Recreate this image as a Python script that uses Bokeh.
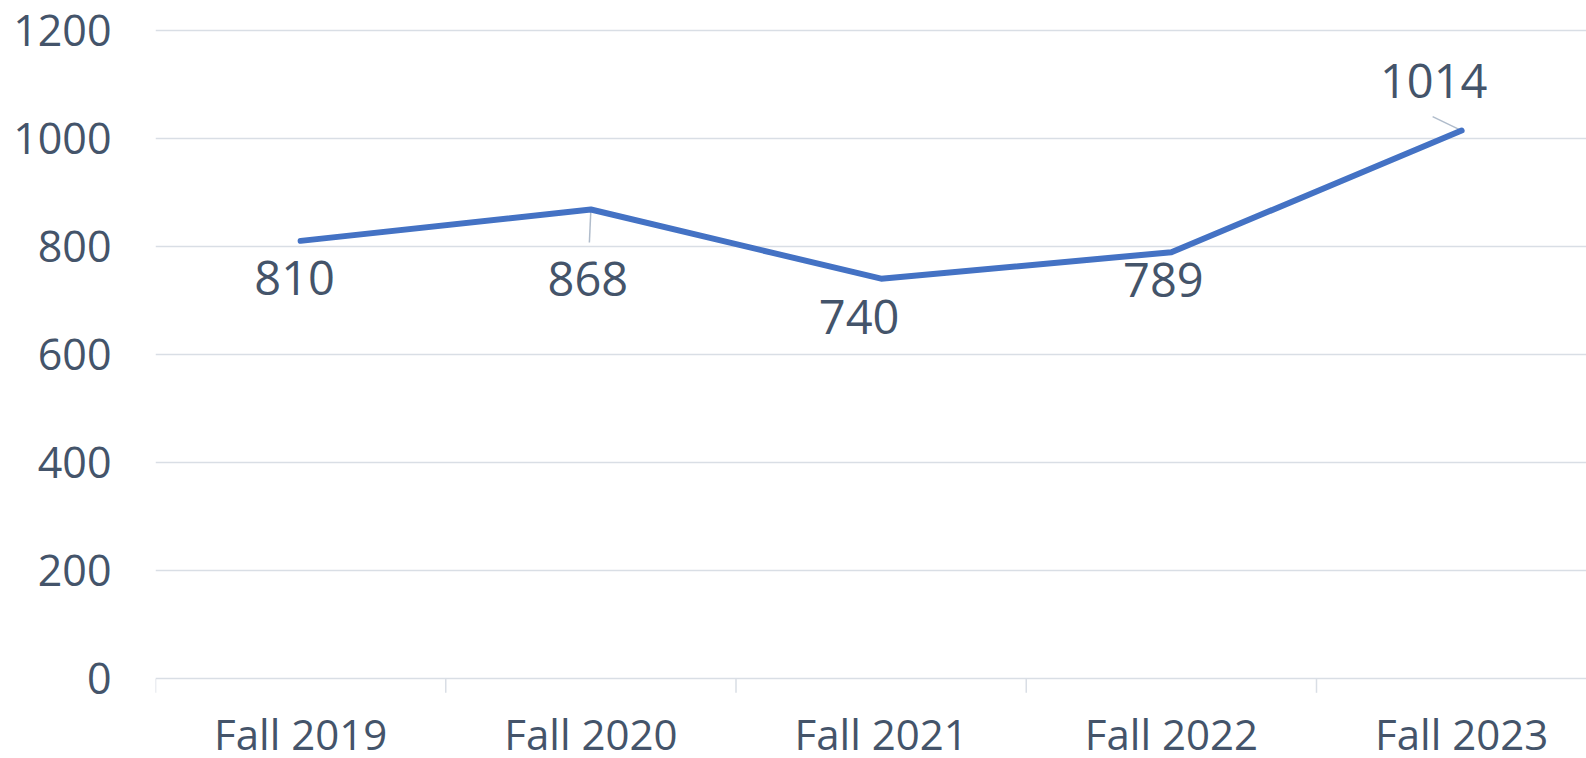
from bokeh.plotting import figure
from bokeh.models import Range1d, FixedTicker
from bokeh.core.properties import value
from bokeh.embed import file_html
from bokeh.resources import INLINE
import numpy as np

# ---- data ----
categories = ["Fall 2019", "Fall 2020", "Fall 2021", "Fall 2022", "Fall 2023"]
enrollment = [810, 868, 740, 789, 1014]
y_ticks = [0, 200, 400, 600, 800, 1000, 1200]

# ---- label placement (pixels from the point to the label baseline centre, +y is down) ----
label_dx = [-6, -3, -22, -8, -28]
label_dy = [55, 88, 57, 46, -31]
# leader lines (index of point, pixel offset of the far end)
leader_idx = [1, 4]
leader_dx = [-1.5, -29]
leader_dy = [33, -14]

# ---- layout / style ----
W, H = 1586, 758
LEFT = 155            # frame left edge (px)
Y_TOP_PX = 29.5       # pixel row of the top tick (1200)
Y_ZERO_PX = 678.3     # pixel row of the zero line
CAT_PX = 290.25       # width of one category
SEP_PX = 14           # length of category separators below the axis
CAT_LABEL_DROP = 71   # px from axis line to category label baseline
BASELINE_FIX = -0.39  # em correction for Bokeh's alphabetic baseline placement
TEXT = "#44546A"
GRID = "#D9DEE5"
LEADER = "#B0BCCB"
LINE = "#4472C4"
FONT = "Open Sans"
DATA_FS, CAT_FS, TICK_FS = 47, 42, 43

y_max = y_ticks[-1]
px_per_y = (Y_ZERO_PX - Y_TOP_PX) / y_max
y_start = -(H - Y_ZERO_PX) / px_per_y
y_end = y_max + Y_TOP_PX / px_per_y
x_end = (W - LEFT) / CAT_PX

xs = np.arange(len(categories)) + 0.5

p = figure(width=W, height=H, x_range=Range1d(0, x_end), y_range=Range1d(y_start, y_end),
           output_backend="svg", toolbar_location=None, x_axis_location=None,
           min_border_left=LEFT, min_border_top=0,
           min_border_bottom=0, min_border_right=0)
p.outline_line_color = None
p.background_fill_color = "white"
p.border_fill_color = "white"

p.xgrid.visible = False
p.ygrid.ticker = FixedTicker(ticks=y_ticks)
p.ygrid.grid_line_color = GRID
p.ygrid.grid_line_width = 1.5

# y axis
p.yaxis.ticker = FixedTicker(ticks=y_ticks)
p.yaxis.axis_line_color = None
p.yaxis.major_tick_line_color = None
p.yaxis.minor_tick_line_color = None
p.yaxis.major_tick_out = 0
p.yaxis.major_label_standoff = 44
p.yaxis.major_label_text_font = FONT
p.yaxis.major_label_text_font_size = f"{TICK_FS}px"
p.yaxis.major_label_text_color = TEXT

# category separators below the zero line
bounds = np.arange(len(categories) + 1)
p.segment(x0=bounds, y0=np.zeros(len(bounds)), x1=bounds,
          y1=np.full(len(bounds), -SEP_PX / px_per_y),
          line_color=GRID, line_width=1.5)

# category labels
p.text(x=xs, y=np.zeros(len(categories)), text=categories,
       y_offset=CAT_LABEL_DROP + BASELINE_FIX * CAT_FS,
       text_align="center", text_baseline="alphabetic",
       text_font=value(FONT), text_font_size=f"{CAT_FS}px", text_color=TEXT)

# leader lines
lx0 = [xs[i] for i in leader_idx]
ly0 = [enrollment[i] for i in leader_idx]
lx1 = [x + d / CAT_PX for x, d in zip(lx0, leader_dx)]
ly1 = [y - d / px_per_y for y, d in zip(ly0, leader_dy)]
p.segment(x0=lx0, y0=ly0, x1=lx1, y1=ly1, line_color=LEADER, line_width=1.5)

# series line
p.line(xs, enrollment, line_color=LINE, line_width=6, line_cap="round", line_join="round")

# data labels
p.text(x=xs, y=enrollment, text=[str(v) for v in enrollment],
       x_offset=label_dx, y_offset=[d + BASELINE_FIX * DATA_FS for d in label_dy],
       text_align="center", text_baseline="alphabetic",
       text_font=value(FONT), text_font_size=f"{DATA_FS}px", text_color=TEXT)

open("out.html", "w").write(file_html(p, INLINE))
